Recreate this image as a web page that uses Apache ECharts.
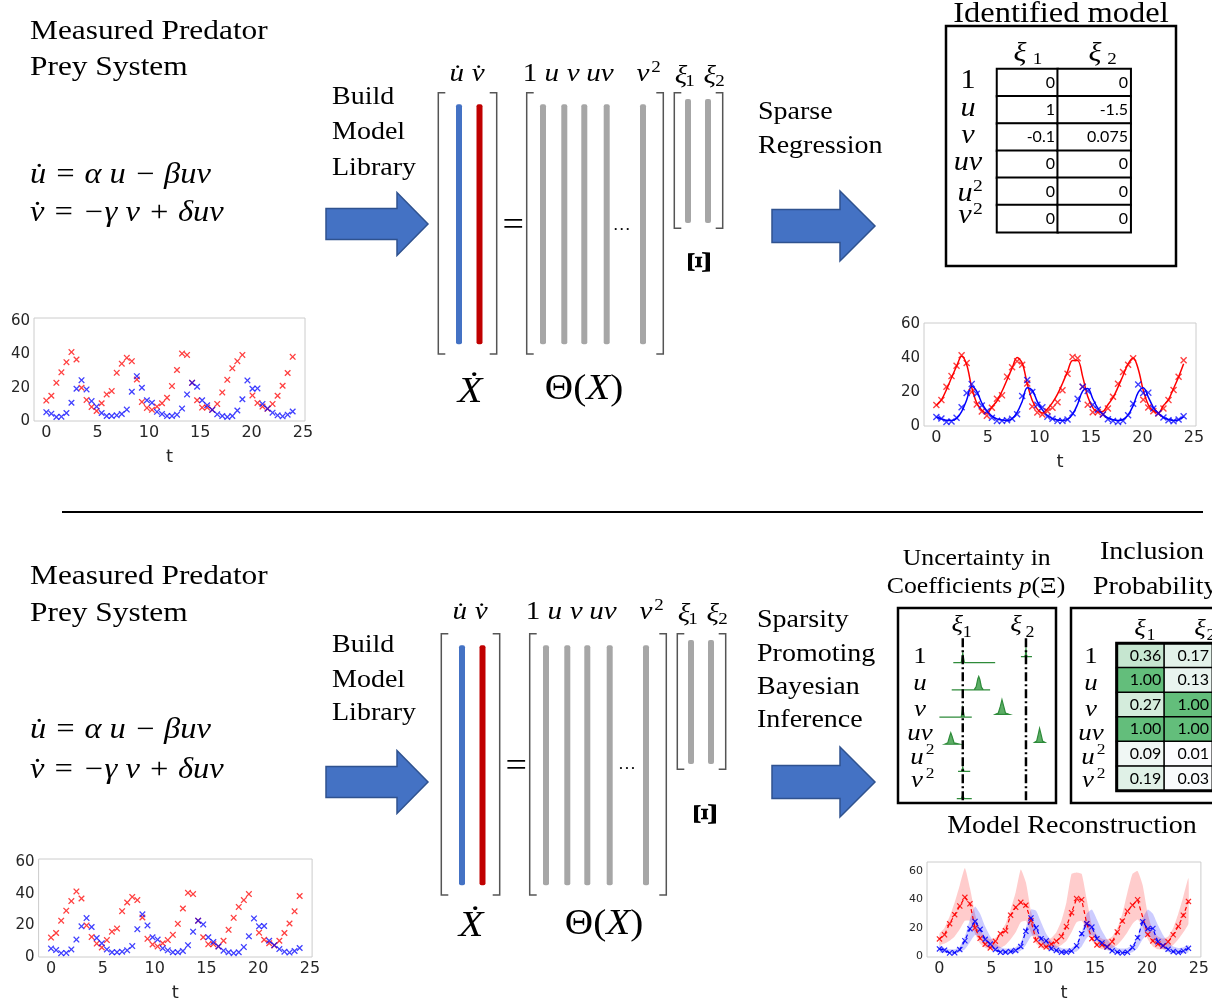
<!DOCTYPE html>
<html><head><meta charset="utf-8">
<script src="https://cdn.jsdelivr.net/npm/echarts@6/dist/echarts.min.js"></script>
<style>html,body{margin:0;padding:0;background:#fff}#c{width:1212px;height:1003px}</style>
</head><body><div id="c"></div>
<script>
// ---------------- data ----------------
const tSamples = [0, 0.49, 0.98, 1.47, 1.96, 2.45, 2.94, 3.43, 3.92, 4.41, 4.9, 5.39, 5.88, 6.37, 6.86, 7.35, 7.84, 8.33, 8.82, 9.31,
  9.8, 10.29, 10.78, 11.27, 11.76, 12.24, 12.73, 13.22, 13.71, 14.2, 14.69, 15.18, 15.67, 16.16, 16.65, 17.14, 17.63, 18.12, 18.61, 19.1,
  19.59, 20.08, 20.57, 21.06, 21.55, 22.04, 22.53, 23.02, 23.51, 24];
const preyMeasured = [12.3, 15.2, 23, 29.3, 35.4, 41.5, 37, 20, 12.7, 8.5, 6, 10.7, 16, 18, 29, 34.5, 38, 36, 25, 11.5,
  7.9, 6.7, 8.7, 10.7, 14, 21, 30.7, 40.6, 39.8, 23, 12.5, 8.1, 8.1, 6.7, 10.3, 17.2, 24.8, 31.7, 36, 39.8,
  null, 15.4, 10.9, 8.7, 7.3, 10.3, 15.2, 21.2, 28.9, 38.6];
const predMeasured = [5.3, 4.4, 2.4, 2.6, 4.8, 11, 19.4, 24.6, 19, 12, 8.7, 4.8, 3, 3, 3.4, 4.2, 6.9, 17.6, 27, 20,
  12.5, 11, 5.5, 4.2, 3, 3, 3.8, 7.5, 16, 23, 20.6, 12.5, 9.5, 6.7, 4, 3, 2.4, 3, 6.3, 13.1,
  24.4, 19.4, 19.6, 10.3, 7.5, 5, 3.4, 2.8, 3.8, 5.7];
const preyFit = [12, 15.3, 21.4, 28.3, 35.1, 41, 36.1, 22.6, 13.5, 9.3, 7.5, 11.2, 14.7, 20.4, 27.2, 34, 40.2, 37, 24.8, 15,
  9.9, 7.7, 10, 13.7, 18.7, 25, 32, 38.5, 38.5, 29, 17.3, 10.8, 8.2, 8.5, 12.5, 16.6, 22.8, 29.7, 36.5, 40,
  33.5, 21, 12.5, 8.8, 7.8, 12, 15.5, 22, 28.8, 36.5];
const predFit = [5.3, 4.2, 3.4, 3.3, 4.5, 8.5, 15.3, 23.3, 20.3, 13.5, 8.9, 5.8, 4.2, 3.5, 3.3, 4.3, 8, 14.4, 22.4, 21,
  14.3, 9.5, 6.2, 4.3, 3.5, 3.3, 3.9, 6.8, 12.8, 20.5, 22, 16, 10.5, 7, 4.7, 3.7, 3.3, 3.8, 6.5, 12,
  19.7, 22.5, 17, 11, 7.4, 5, 3.8, 3.3, 3.6, 5.5];
const preyHigh = [16, 20, 28, 38, 50, 62, 48, 30, 18, 14, 12, 13, 17, 23, 33, 45, 61, 52, 32, 18,
  13, 12, 13, 17, 25, 38, 58, 59, 58, 40, 22, 15, 12.5, 12, 14, 20, 30, 45, 58, 60,
  50, 30, 18, 14, 12.5, 14, 20, 30, 42, 55];
const preyLow = [8, 9, 11, 14, 19, 25, 25, 16, 9, 6, 5, 5, 6, 8, 12, 17, 24, 25, 17, 9,
  6, 5, 5, 6, 8, 11, 17, 24, 25, 19, 11, 7, 5, 5, 6, 8, 12, 17, 23, 26,
  21, 12, 7, 5, 5, 6, 8, 12, 17, 23];
const predHigh = [8, 6, 5, 5, 7, 14, 26, 35, 30, 21, 14, 9, 6.5, 5.5, 5.5, 6.5, 10, 20, 33, 32,
  24, 16, 11, 7.5, 6, 5.5, 6, 9, 17, 30, 33, 26, 18, 12, 8, 6, 5.5, 6, 8, 14,
  27, 33, 30, 22, 15, 10, 7, 6, 6.5, 8];
const predLow = [3, 2.5, 2, 2, 3, 5, 10, 15, 14, 9, 5.5, 3.5, 2.5, 2, 2, 2.5, 4, 8, 14, 15,
  10, 6.5, 4, 3, 2, 2, 2.5, 3.5, 7, 13, 15, 11, 7, 4.5, 3, 2, 2, 2, 3, 6,
  12, 15, 12, 8, 5, 3, 2.5, 2, 2, 3];
const tickT = [0, 5, 10, 15, 20, 25];
const tickPop = [0, 20, 40, 60];
const termLabels = ['1', 'u', 'v', 'uv', 'u²', 'v²'];
const identifiedXi1 = [0, 1, -0.1, 0, 0, 0];
const identifiedXi2 = [0, -1.5, 0.075, 0, 0, 0];
const inclusionXi1 = [0.36, 1.00, 0.27, 1.00, 0.09, 0.19];
const inclusionXi2 = [0.17, 0.13, 1.00, 1.00, 0.01, 0.03];
// posterior sketches: [offset from zero line, height in row units]
const posteriorXi1 = [
  {row: 0, pts: [[-0.6, 0], [-0.1, 0], [0, 0.35], [0.1, 0], [2.05, 0]]},
  {row: 1, pts: [[-0.7, 0], [0.72, 0], [0.85, 0.12], [0.95, 0.4], [1.01, 0.49], [1.08, 0.38], [1.18, 0.1], [1.3, 0], [1.73, 0]]},
  {row: 2, pts: [[-1.48, 0], [-0.1, 0], [0, 0.33], [0.1, 0], [0.57, 0]]},
  {row: 3, pts: [[-1.15, 0], [-0.95, 0.05], [-0.83, 0.3], [-0.76, 0.42], [-0.68, 0.3], [-0.55, 0.05], [-0.2, 0]]},
  {row: 4, pts: [[-0.3, 0], [-0.08, 0], [0, 0.15], [0.08, 0], [0.47, 0]]},
  {row: 5, pts: [[-0.38, 0], [-0.08, 0], [0, 0.15], [0.08, 0], [0.57, 0]]}
];
const posteriorXi2 = [
  {row: 0, pts: [[-0.32, 0.22], [-0.05, 0.22], [0, 0.5], [0.05, 0.22], [0.38, 0.22]]},
  {row: 2, pts: [[-1.93, 0.1], [-1.75, 0.15], [-1.62, 0.4], [-1.52, 0.64], [-1.42, 0.42], [-1.3, 0.15], [-1.05, 0.1]]},
  {row: 3, pts: [[0.55, 0.07], [0.68, 0.12], [0.78, 0.37], [0.86, 0.58], [0.95, 0.37], [1.05, 0.12], [1.2, 0.07]]}
];

// ---------------- helpers ----------------
const SERIF = "'Liberation Serif','Times New Roman',serif";
const SANS = "'DejaVu Sans',sans-serif";
const CELL = "Lato,'Open Sans',sans-serif";
const SX = 1.12;
const YS = 2;
const RED = '#FF0000', BLUE = '#0000FF';
const XPATH = 'path://M0,1.4L1.4,0L5,3.6L8.6,0L10,1.4L6.4,5L10,8.6L8.6,10L5,6.4L1.4,10L0,8.6L3.6,5Z';
const G = [];
function txt(x, y, text, size, o) {
  o = o || {};
  G.push({type: 'text', x: x, y: y + YS, scaleX: o.sx === undefined ? SX : o.sx, rotation: o.rot || 0, z: 50,
    style: {text: text, fontFamily: SERIF, fontSize: size, fontStyle: o.it ? 'italic' : 'normal',
      fontWeight: o.bold ? 'bold' : 'normal', fill: '#000', align: o.align || 'left', verticalAlign: 'middle', rich: o.rich}});
}
function poly(points, style) { G.push({type: 'polyline', shape: {points: points}, style: Object.assign({fill: null}, style), z: 40}); }
function rect(x, y, w, h, style, r) { G.push({type: 'rect', shape: {x: x, y: y, width: w, height: h, r: r || 0}, style: style, z: 40}); }
function arrow(x0, hx, tipx, tipy, bh, hh) {
  G.push({type: 'polygon', z: 40, shape: {points: [[x0, tipy - bh], [hx, tipy - bh], [hx, tipy - hh], [tipx, tipy], [hx, tipy + hh], [hx, tipy + bh], [x0, tipy + bh]]},
    style: {fill: '#4472C4', stroke: '#2F528F', lineWidth: 1.5}});
}
function bracket(x0, x1, y0, y1) {
  const a = 7, st = {stroke: '#555', lineWidth: 1.5};
  poly([[x0 + a, y0], [x0, y0], [x0, y1], [x0 + a, y1]], st);
  poly([[x1 - a, y0], [x1, y0], [x1, y1], [x1 - a, y1]], st);
}
function library(dx, dy, ldy, o) {
  bracket(438.3 + dx, 496.7 + dx, 92.7 + dy, 354 + dy);
  rect(456 + dx, 104.3 + dy, 6, 240, {fill: '#4472C4'}, 2);
  rect(476.5 + dx, 104.3 + dy, 6, 240, {fill: '#C00000'}, 2);
  bracket(526.7 + dx, 663.3 + dx, 92.7 + dy, 354 + dy);
  [540, 561.3, 581.3, 603.7, 640].forEach(x => rect(x + dx, 104.3 + dy, 6, 240, {fill: '#A6A6A6'}, 2));
  bracket(674.3 + dx, 722.7 + dx, 92.7 + dy, 228.3 + dy);
  [685, 705].forEach(x => rect(x + dx, 99 + dy, 6, 124, {fill: '#A6A6A6'}, 2));
  txt(513.3 + dx, 224 + dy, '=', 34, {align: 'center'});
  txt(o.dots[0], o.dots[1], '…', 16, {align: 'center'});
  const ly = 72 + ldy;
  txt(456.7 + dx, ly, 'u\u0307', 26, {it: true, align: 'center'});
  txt(478.3 + dx, ly, 'v\u0307', 26, {it: true, align: 'center'});
  txt(530 + dx, ly, '1', 26, {align: 'center'});
  txt(551.7 + dx, ly, 'u', 26, {it: true, align: 'center'});
  txt(573.3 + dx, ly, 'v', 26, {it: true, align: 'center'});
  txt(600 + dx, ly, 'uv', 26, {it: true, align: 'center'});
  txt(643 + dx, ly, 'v', 26, {it: true, align: 'center'});
  txt(656 + dx, ly - 6, '2', 17, {align: 'center'});
  txt(681 + dx, ly + 2, 'ξ', 26, {it: true, align: 'center'});
  txt(690 + dx, ly + 8, '1', 17, {align: 'center'});
  txt(709.7 + dx, ly + 2, 'ξ', 26, {it: true, align: 'center'});
  txt(720 + dx, ly + 8, '2', 17, {align: 'center'});
  txt(o.xi[0], o.xi[1], 'Ξ', 34, {bold: true, align: 'center', rot: Math.PI / 2, sx: 1});
  txt(o.xd[0], o.xd[1], 'Ẋ', 36, {it: true, align: 'center'});
  txt(o.th[0], o.th[1], 'Θ({i|X})', 35, {align: 'center', rich: {i: {fontStyle: 'italic', fontFamily: SERIF, fontSize: 35}}});
}
function rowLabels(x, ys, size) {
  txt(x, ys[0], '1', size, {align: 'center'});
  txt(x, ys[1], 'u', size, {it: true, align: 'center'});
  txt(x, ys[2], 'v', size, {it: true, align: 'center'});
  txt(x, ys[3], 'uv', size, {it: true, align: 'center'});
  txt(x - 3, ys[4], 'u', size, {it: true, align: 'center'});
  txt(x + 10, ys[4] - 8, '2', size * 0.65, {align: 'center'});
  txt(x - 3, ys[5], 'v', size, {it: true, align: 'center'});
  txt(x + 10, ys[5] - 7, '2', size * 0.65, {align: 'center'});
}

// ---------------- decorations ----------------
// top half
txt(30, 29.5, 'Measured Predator', 28);
txt(30, 66, 'Prey System', 28);
txt(30, 173, 'u\u0307 = α u − βuv', 29, {it: true});
txt(30, 211, 'v\u0307 = −γ v + δuv', 29, {it: true});
txt(332, 95.5, 'Build', 25); txt(332, 130.5, 'Model', 25); txt(332, 166, 'Library', 25);
arrow(326, 397, 428, 224, 15.5, 31.5);
library(0, 0, 0, {dots: [621.7, 224], xi: [701, 260], xd: [470, 391], th: [584, 388]});
txt(758, 110.5, 'Sparse', 25); txt(758, 144, 'Regression', 25);
arrow(772, 840, 875, 226, 16.5, 35);
rect(946, 26, 230, 240, {fill: null, stroke: '#000', lineWidth: 2.5});
txt(1061, 12, 'Identified model', 29, {align: 'center'});
txt(1020, 52, 'ξ', 27, {it: true, align: 'center'}); txt(1037.5, 58, '1', 17, {align: 'center'});
txt(1095, 52, 'ξ', 27, {it: true, align: 'center'}); txt(1112, 58, '2', 17, {align: 'center'});
rowLabels(968, [79, 107, 134, 161, 192, 214], 27);
// divider
poly([[62, 512], [1203, 512]], {stroke: '#000', lineWidth: 2});
// bottom half
txt(30, 575, 'Measured Predator', 28);
txt(30, 612, 'Prey System', 28);
txt(30, 728, 'u\u0307 = α u − βuv', 29, {it: true});
txt(30, 768, 'v\u0307 = −γ v + δuv', 29, {it: true});
txt(332, 643, 'Build', 25); txt(332, 678, 'Model', 25); txt(332, 711, 'Library', 25);
arrow(326, 397, 428, 782, 15.5, 31.5);
library(3, 541, 538, {dots: [627, 763], xi: [707, 812], xd: [471, 925], th: [604, 923]});
txt(757, 618, 'Sparsity', 25); txt(757, 652, 'Promoting', 25); txt(757, 685, 'Bayesian', 25); txt(757, 718, 'Inference', 25);
arrow(772, 840, 875, 782, 16.5, 35);
txt(976.7, 557, 'Uncertainty in', 23, {align: 'center'});
txt(976, 585, 'Coefficients {i|p}(Ξ)', 23, {align: 'center', rich: {i: {fontStyle: 'italic', fontFamily: SERIF, fontSize: 23}}});
txt(1152, 550, 'Inclusion', 25, {align: 'center'});
txt(1093, 585, 'Probability', 25);
txt(1072, 824, 'Model Reconstruction', 25, {align: 'center'});
rect(898, 608, 158, 195, {fill: null, stroke: '#000', lineWidth: 2.5});
rect(1071, 608, 150, 195, {fill: null, stroke: '#000', lineWidth: 2.5});
txt(957.3, 623, 'ξ', 24, {it: true, align: 'center'}); txt(967.3, 631, '1', 16, {align: 'center'});
txt(1016, 623, 'ξ', 24, {it: true, align: 'center'}); txt(1030, 631, '2', 16, {align: 'center'});
txt(1140, 627, 'ξ', 24, {it: true, align: 'center'}); txt(1151, 634, '1', 16, {align: 'center'});
txt(1200, 627, 'ξ', 24, {it: true, align: 'center'}); txt(1211, 634, '2', 16, {align: 'center'});
rowLabels(920, [655, 681.5, 708, 731.5, 756, 779], 24);
rowLabels(1091, [655, 681.5, 708, 731.5, 756, 779], 24);
rect(1116.7, 643.3, 101.2, 147.4, {fill: null, stroke: '#000', lineWidth: 3});

// ---------------- axes ----------------
function tsX(gi, fs) {
  return {type: 'value', gridIndex: gi, min: -1.2, max: 25.2, splitLine: {show: false}, axisLine: {show: false},
    axisTick: {show: false, customValues: tickT},
    axisLabel: {customValues: tickT, fontSize: fs, fontFamily: SANS, color: '#262626', margin: 4},
    name: 't', nameLocation: 'middle', nameGap: 27, nameTextStyle: {fontSize: 18, fontFamily: SANS, color: '#262626'}};
}
function tsY(gi, mn, mx, fs) {
  return {type: 'value', gridIndex: gi, min: mn, max: mx, splitLine: {show: false}, axisLine: {show: false},
    axisTick: {show: false, customValues: tickPop},
    axisLabel: {customValues: tickPop, fontSize: fs, fontFamily: SANS, color: '#262626', margin: 4}};
}
const frame = {show: true, borderColor: '#cccccc', borderWidth: 1, backgroundColor: '#fff'};
const grids = [
  Object.assign({left: 34, top: 318, width: 271, height: 103}, frame),
  Object.assign({left: 924, top: 323, width: 272, height: 103}, frame),
  Object.assign({left: 38.6, top: 859, width: 273.5, height: 103}, frame),
  Object.assign({left: 927, top: 862, width: 275, height: 110}, frame),
  {left: 898, top: 608, width: 158, height: 195},
  {left: 1116.7, top: 643.3, width: 101.2, height: 147.4},
  {left: 997, top: 69, width: 60.7, height: 163.3},
  {left: 1057.7, top: 69, width: 73, height: 163.3}
];
const xAxes = [tsX(0, 16), tsX(1, 16), tsX(2, 16), tsX(3, 16),
  {type: 'value', gridIndex: 4, min: -4.1, max: 5.9, show: false},
  {type: 'category', gridIndex: 5, data: ['ξ1', 'ξ2'], show: false},
  {type: 'category', gridIndex: 6, data: ['ξ1'], show: false},
  {type: 'category', gridIndex: 7, data: ['ξ2'], show: false}];
const yAxes = [tsY(0, 0, 62, 15), tsY(1, 0, 60.5, 15), tsY(2, 0, 62, 15), tsY(3, -0.4, 66.3, 11),
  {type: 'value', gridIndex: 4, min: -2.01, max: 5.16, inverse: true, show: false},
  {type: 'category', gridIndex: 5, data: termLabels, inverse: true, show: false},
  {type: 'category', gridIndex: 6, data: termLabels, inverse: true, show: false},
  {type: 'category', gridIndex: 7, data: termLabels, inverse: true, show: false}];

// ---------------- series ----------------
const pairs = ys => tSamples.map((t, i) => [t, ys[i]]);
const pairsNN = ys => pairs(ys).filter(p => p[1] != null);
function sc(gi, ys, color, size) {
  return {type: 'scatter', xAxisIndex: gi, yAxisIndex: gi, data: pairsNN(ys), symbol: XPATH, symbolSize: size || 6.5,
    itemStyle: {color: color, opacity: 0.75}, silent: true, z: 5};
}
function fitLine(gi, ys, color) {
  return {type: 'line', xAxisIndex: gi, yAxisIndex: gi, data: pairs(ys), smooth: 0.35, symbol: 'none',
    lineStyle: {color: color, width: 1.5}, silent: true, z: 4};
}
function band(gi, lo, hi, color) {
  const upper = pairs(hi), lower = pairs(lo).reverse();
  return {type: 'custom', xAxisIndex: gi, yAxisIndex: gi, silent: true, z: 2,
    data: upper.concat(lower),
    renderItem: function (params, api) {
      if (params.dataIndex !== 0) return null;
      const points = upper.concat(lower).map(p => api.coord(p));
      return {type: 'polygon', shape: {points: points, smooth: 0.15}, style: {fill: color}};
    }};
}
function dashed(gi, ys, color) {
  return {type: 'line', xAxisIndex: gi, yAxisIndex: gi, data: pairs(ys), connectNulls: true, symbol: XPATH, symbolSize: 6, showAllSymbol: true,
    lineStyle: {color: color, width: 1.2, type: [4, 3]}, itemStyle: {color: color, opacity: 0.85}, silent: true, z: 4};
}
const shapes = posteriorXi1.map(s => Object.assign({col: 0}, s)).concat(posteriorXi2.map(s => Object.assign({col: 1}, s)));
const posteriorSeries = {
  type: 'custom', xAxisIndex: 4, yAxisIndex: 4, silent: true, z: 3,
  data: shapes.map(s => [s.col * 4, s.row]),
  renderItem: function (params, api) {
    const s = shapes[params.dataIndex];
    const points = s.pts.map(p => api.coord([s.col * 4 + p[0], s.row - p[1]]));
    return {type: 'polygon', shape: {points: points}, style: {fill: '#5DAE66', stroke: '#2E8B3A', lineWidth: 1.2}};
  }
};
function zeroLine(x) {
  return {type: 'line', xAxisIndex: 4, yAxisIndex: 4, data: [[x, -0.9], [x, 5.1]], symbol: 'none', silent: true, z: 4,
    lineStyle: {color: '#000', width: 2.5, type: [9, 3, 2, 3]}};
}
const inclusionData = inclusionXi1.map((v, i) => [0, i, v]).concat(inclusionXi2.map((v, i) => [1, i, v]));
const cellLabel = {show: true, position: 'insideRight', distance: 4, fontFamily: CELL, fontSize: 16, color: '#000'};
const series = [
  sc(0, preyMeasured, RED), sc(0, predMeasured, BLUE),
  fitLine(1, preyFit, RED), fitLine(1, predFit, BLUE), sc(1, preyMeasured, RED, 7), sc(1, predMeasured, BLUE, 7),
  sc(2, preyMeasured, RED), sc(2, predMeasured, BLUE),
  band(3, preyLow, preyHigh, 'rgba(255,0,0,0.2)'), band(3, predLow, predHigh, 'rgba(0,0,255,0.2)'),
  dashed(3, preyMeasured, RED), dashed(3, predMeasured, BLUE),
  posteriorSeries, zeroLine(0), zeroLine(4),
  {type: 'heatmap', id: 'incl', xAxisIndex: 5, yAxisIndex: 5, data: inclusionData, silent: true,
    label: Object.assign({formatter: p => p.value[2].toFixed(2)}, cellLabel),
    itemStyle: {borderColor: '#000', borderWidth: 1.5}},
  {type: 'heatmap', xAxisIndex: 6, yAxisIndex: 6, data: identifiedXi1.map((v, i) => [0, i, v]), silent: true,
    label: Object.assign({formatter: p => String(p.value[2])}, cellLabel),
    itemStyle: {color: '#fff', borderColor: '#000', borderWidth: 2}},
  {type: 'heatmap', xAxisIndex: 7, yAxisIndex: 7, data: identifiedXi2.map((v, i) => [0, i, v]), silent: true,
    label: Object.assign({formatter: p => String(p.value[2])}, cellLabel),
    itemStyle: {color: '#fff', borderColor: '#000', borderWidth: 2}}
];
const inclIndex = series.findIndex(s => s.id === 'incl');

const chart = echarts.init(document.getElementById('c'), null, {renderer: 'canvas'});
chart.setOption({
  backgroundColor: '#fff',
  animation: false,
  grid: grids, xAxis: xAxes, yAxis: yAxes,
  visualMap: [{type: 'continuous', show: false, seriesIndex: inclIndex, dimension: 2, min: 0.01, max: 1,
    inRange: {color: ['#FCFCFF', '#63BE7B']}}],
  graphic: {elements: G},
  series: series
});
</script></body></html>
